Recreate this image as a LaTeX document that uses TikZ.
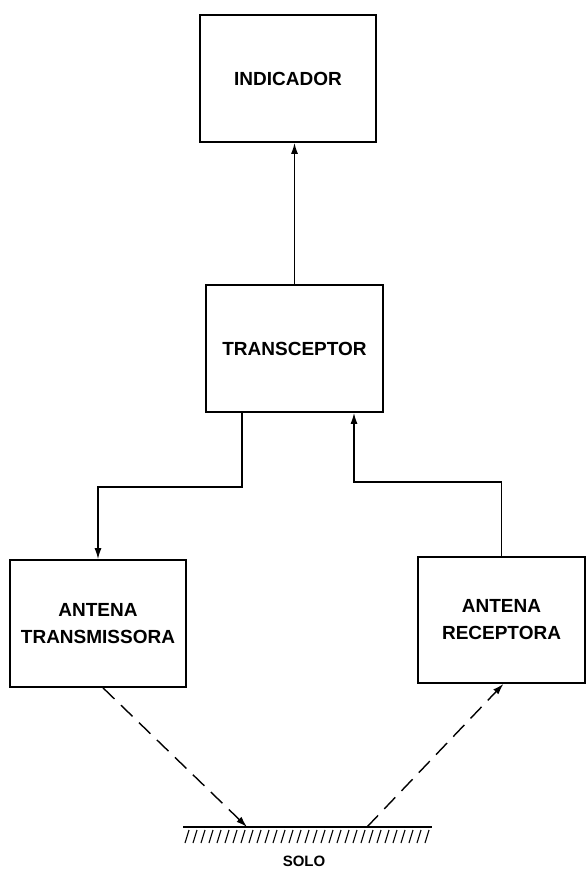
\documentclass[tikz,border=0pt]{standalone}
\usepackage{fontspec}
\setmainfont{Liberation Sans}
\usetikzlibrary{arrows.meta,calc}
\begin{document}
\begin{tikzpicture}[x=1pt,y=-1pt,
  box/.style={draw,line width=1.7pt,inner sep=0pt,align=center,
    font=\fontsize{19}{27}\selectfont\bfseries},
  link/.style={line width=1.5pt,-{Latex[length=11pt,width=7pt]}},
  ray/.style={line width=1.4pt,dash pattern=on 16pt off 9pt,-{Latex[length=11pt,width=7pt]}},
  hatch/.style={line width=1.1pt}]
\useasboundingbox (0,0) rectangle (587,870);

% blocks
\node[box,minimum width=176pt,minimum height=127pt] (ind) at (288,78.5) {INDICADOR};
\node[box,minimum width=177pt,minimum height=127pt] (trc) at (294.5,348.5) {TRANSCEPTOR};
\node[box,minimum width=176pt,minimum height=127pt] (tx) at (98,623.5) {ANTENA\\TRANSMISSORA};
\node[box,minimum width=167pt,minimum height=126pt] (rx) at (501.5,620) {ANTENA\\RECEPTORA};

% bends of the feed lines
\coordinate (j1) at (242,487);
\coordinate (j2) at (354,482);

% transceiver to indicator
\draw[link] (trc.north) -- (trc.north |- ind.south);
% transceiver to transmitting antenna
\draw[link] (j1 |- trc.south) -- (j1) -| (tx.north);
% receiving antenna to transceiver
\draw[link] (rx.north) |- (j2) -- (j2 |- trc.south);

% ground surface
\coordinate (gl) at (183,827);
\coordinate (gr) at (432,827);
\coordinate (g1) at (247,827);
\coordinate (g2) at (367,827);
\draw[line width=1.5pt] (gl) -- (gr);
\foreach \x in {185,193,...,425}
  \draw[hatch] (\x,843) -- ++(4,-13);
\node[font=\fontsize{15}{15}\selectfont\bfseries] (solo) at (304,861) {SOLO};

% reflected path
\draw[ray] ($(tx.south)+(5,0)$) -- (g1);
\draw[ray] (g2) -- ($(rx.south)+(2,0)$);
\end{tikzpicture}
\end{document}
